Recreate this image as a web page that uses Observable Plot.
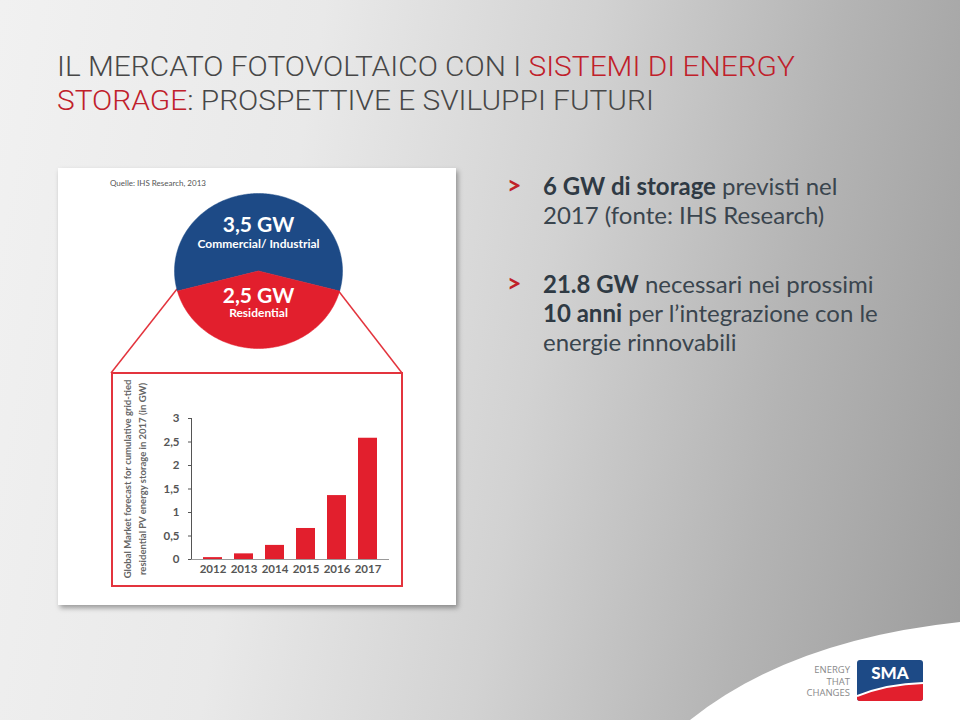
<!DOCTYPE html>
<html>
<head>
<meta charset="utf-8">
<script src="https://cdn.jsdelivr.net/npm/d3@7"></script>
<script src="https://cdn.jsdelivr.net/npm/@observablehq/plot@0.6"></script>
<style>
html, body { margin: 0; padding: 0; }
body {
  width: 960px; height: 720px; overflow: hidden; position: relative;
  background: linear-gradient(100deg, #f1f1f1 0%, #e9e9e9 30%, #d2d2d2 55%, #b4b4b4 78%, #9c9c9c 100%);
  font-family: Lato, "Open Sans", sans-serif;
}
.abs { position: absolute; }
.tline {
  left: 57px; font-family: Roboto, sans-serif; font-weight: 300;
  font-size: 28.3px; line-height: 33px; color: #474747; white-space: nowrap;
  transform-origin: 0 0; transform: scaleX(1.055);
}
.tline .red { color: #c0202a; }
.bullet { left: 507px; font-size: 24px; line-height: 29px; color: #3a454e; white-space: nowrap; }
.bullet .gt { position: absolute; left: 0; top: -1px; color: #c0202a; font-weight: 700; font-size: 25px; }
.bullet .txt { position: absolute; left: 36px; }
.bullet b { font-weight: 700; color: #2f3a44; }
#card {
  left: 58px; top: 168px; width: 398px; height: 437px; background: #fff;
  box-shadow: 2px 3px 5px rgba(0,0,0,0.35);
}
#quelle { left: 52px; top: 10px; font-size: 8px; color: #555; }
#redbox { left: 53px; top: 204px; width: 288px; height: 211px; border: 2px solid #e3343d; }
#logoText {
  left: 780px; top: 664px; width: 70px; text-align: right; font-size: 9.5px; line-height: 11.5px;
  color: #8a8a8a; font-family: "Open Sans", sans-serif;
}
</style>
</head>
<body>
<svg class="abs" style="left:0;top:0" width="960" height="720">
  <path d="M690,720 Q790,640 960,622 L960,720 Z" fill="#ffffff"/>
</svg>

<div class="tline abs" style="top:50px;">IL MERCATO FOTOVOLTAICO CON I <span class="red">SISTEMI DI ENERGY</span></div>
<div class="tline abs" style="top:83.5px;"><span class="red">STORAGE</span>: PROSPETTIVE E SVILUPPI FUTURI</div>

<div class="bullet abs" style="top:171px;">
  <span class="gt">&gt;</span>
  <span class="txt"><b>6 GW di storage</b> previsti nel<br>2017 (fonte: IHS Research)</span>
</div>
<div class="bullet abs" style="top:269px;">
  <span class="gt">&gt;</span>
  <span class="txt"><b>21.8 GW</b> necessari nei prossimi<br><b>10 anni</b> per l’integrazione con le<br>energie rinnovabili</span>
</div>

<div id="card" class="abs">
  <div id="quelle" class="abs">Quelle: IHS Research, 2013</div>
  <svg class="abs" style="left:0;top:0" width="398" height="437">
    <polyline points="53,205 119,121" fill="none" stroke="#e3343d" stroke-width="1.5"/>
    <polyline points="344,205 279,121" fill="none" stroke="#e3343d" stroke-width="1.5"/>
  </svg>
  <div id="redbox" class="abs"></div>
  <div id="pie" class="abs" style="left:116px; top:25px;"></div>
  <div id="bars" class="abs" style="left:53px; top:210px;"></div>
</div>

<div id="logoText" class="abs">ENERGY<br>THAT<br>CHANGES</div>
<svg class="abs" style="left:857px; top:660px" width="66" height="41">
  <defs><clipPath id="lc"><rect x="0" y="0" width="66" height="41" rx="3"/></clipPath></defs>
  <g clip-path="url(#lc)">
    <rect x="0" y="0" width="66" height="41" fill="#1d4a86"/>
    <path d="M0,41 L0,36 Q30,24 66,23 L66,41 Z" fill="#e21f2d"/>
    <path d="M0,36 Q30,24 66,23" fill="none" stroke="#fff" stroke-width="2"/>
  </g>
  <text x="33" y="19" text-anchor="middle" font-family="Lato, sans-serif" font-weight="900" font-size="17" fill="#fff">SMA</text>
</svg>

<script>
// ---- Data ----
const years = ["2012", "2013", "2014", "2015", "2016", "2017"];
const storageGW = [0.04, 0.12, 0.30, 0.66, 1.36, 2.58];
const yTicks = [0, 0.5, 1, 1.5, 2, 2.5, 3];
const yTickLabels = ["0", "0,5", "1", "1,5", "2", "2,5", "3"];
const yTitleLines = ["Global Market forecast for cumulative grid-tied", "residential PV energy storage in 2017 (in GW)"];

const segments = ["Commercial/ Industrial", "Residential"];
const segmentGW = [3.5, 2.5];
const segmentValueLabels = ["3,5 GW", "2,5 GW"];
const segmentColors = ["#1d4a86", "#e21f2d"];

// ---- Pie (as filled polygons through Plot scales) ----
const total = d3.sum(segmentGW);
const start = -Math.PI * segmentGW[0] / total;
const arcs = d3.pie().sort(null).startAngle(start).endAngle(start + 2 * Math.PI)(segmentGW);
const piePts = [];
arcs.forEach((a, i) => {
  piePts.push({seg: segments[i], x: 0, y: 0});
  const n = Math.ceil((a.endAngle - a.startAngle) / (Math.PI / 180));
  for (let k = 0; k <= n; k++) {
    const t = a.startAngle + (a.endAngle - a.startAngle) * k / n;
    piePts.push({seg: segments[i], x: Math.sin(t), y: Math.cos(t)});
  }
  piePts.push({seg: segments[i], x: 0, y: 0});
});
const labelPts = arcs.map((a, i) => {
  const mid = (a.startAngle + a.endAngle) / 2;
  return {seg: segments[i], value: segmentValueLabels[i], x: Math.sin(mid), y: Math.cos(mid), i};
});
const valueR = [0.59, 0.32];
const nameR = [0.35, 0.54];

const pie = Plot.plot({
  width: 168, height: 155, margin: 0,
  x: {domain: [-1, 1], axis: null},
  y: {domain: [-1, 1], axis: null},
  style: {background: "transparent", fontFamily: "Lato, sans-serif", overflow: "visible"},
  marks: [
    ...segments.map((s, i) => Plot.line(piePts.filter(d => d.seg === s), {x: "x", y: "y", fill: segmentColors[i], stroke: segmentColors[i], strokeWidth: 0.5})),
    Plot.text(labelPts, {x: d => d.x * valueR[d.i], y: d => d.y * valueR[d.i], text: "value", fill: "#fff", fontSize: 21, fontWeight: "bold"}),
    Plot.text(labelPts, {x: d => d.x * nameR[d.i], y: d => d.y * nameR[d.i], text: "seg", fill: "#fff", fontSize: 12, fontWeight: "bold"})
  ]
});
document.getElementById("pie").appendChild(pie);

// ---- Bars ----
const barData = years.map((y, i) => ({year: y, value: storageGW[i]}));
const bars = Plot.plot({
  width: 288, height: 205, marginLeft: 80, marginRight: 10, marginTop: 40, marginBottom: 24,
  style: {background: "transparent", fontFamily: "Lato, sans-serif", fontSize: "11.5px", fontWeight: "bold", color: "#555", overflow: "visible"},
  x: {domain: years, padding: 0.38, label: null, tickSize: 0, tickPadding: 5},
  y: {domain: [0, 3], ticks: yTicks, tickFormat: d => yTickLabels[yTicks.indexOf(d)], label: null, tickSize: 3, tickPadding: 9, line: true},
  marks: [
    Plot.barY(barData, {x: "year", y: "value", fill: "#e21f2d"}),
    Plot.ruleY([0], {stroke: "#9a9a9a", strokeWidth: 1.2}),
    Plot.text([yTitleLines.join("\n")], {frameAnchor: "left", rotate: -90, textAnchor: "middle", dx: -58, dy: -10, fontSize: 9.5, lineHeight: 1.55, fill: "#666", fontWeight: "bold"})
  ]
});
document.getElementById("bars").appendChild(bars);
</script>
</body>
</html>
